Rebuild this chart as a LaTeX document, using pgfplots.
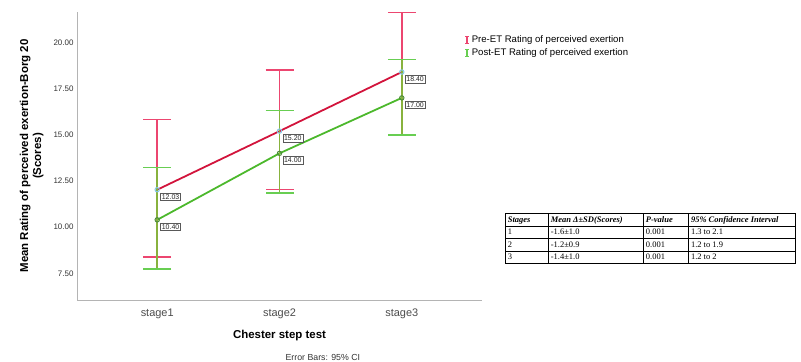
\documentclass[border=0pt]{standalone}
\usepackage{pgfplots}
\pgfplotsset{compat=1.18}
\usepackage{pgfplotstable}
\usepackage{fontspec}
\setmainfont{Liberation Sans}
\newfontfamily\tablefont{Liberation Serif}

\definecolor{preLine}{RGB}{210,20,60}
\definecolor{preErr}{RGB}{236,70,112}
\definecolor{postLine}{RGB}{76,184,44}
\definecolor{postErr}{RGB}{104,206,82}
\definecolor{barMix}{RGB}{136,178,62}
\definecolor{preMark}{RGB}{134,200,230}
\definecolor{postMark}{RGB}{78,140,60}
\definecolor{axisGray}{RGB}{180,180,180}

% stage, mean, upper and lower half-widths of the 95% CI
\pgfplotstableread{
x  y      ep    em
1  12.03  3.80  3.65
2  15.20  3.30  3.16
3  18.40  3.22  3.38
}\preET
\pgfplotstableread{
x  y      ep    em
1  10.40  2.82  2.67
2  14.00  2.32  2.14
3  17.00  2.08  2.00
}\postET

\begin{document}
\begin{tikzpicture}
\useasboundingbox (0,0) rectangle (801bp,362bp);
\begin{axis}[
  at={(77bp,62bp)}, anchor=south west,
  scale only axis, width=405bp, height=288bp,
  xmin=0.344, xmax=3.656, ymin=6.06, ymax=21.65,
  axis x line*=bottom, axis y line*=left,
  axis line style={draw=axisGray, line width=0.8pt},
  major tick length=0pt,
  /pgf/number format/assume math mode=true,
  xtick={1,2,3}, xticklabels={stage1,stage2,stage3},
  ytick={7.5,10,12.5,15,17.5,20},
  yticklabels={7.50,10.00,12.50,15.00,17.50,20.00},
  xticklabel style={font=\fontsize{11}{13}\selectfont, text=black!70, yshift=-5bp},
  yticklabel style={font=\fontsize{8}{9}\selectfont, text=black!80},
  xlabel={Chester step test},
  ylabel={Mean Rating of perceived exertion-Borg 20\\(Scores)},
  every axis x label/.style={at={(axis description cs:0.5,-0.122)}, anchor=center,
    font=\bfseries\fontsize{11.5}{13}\selectfont},
  every axis y label/.style={at={(axis description cs:-0.074,0.5)}, anchor=south,
    rotate=90, align=center, font=\bfseries\fontsize{11.5}{13}\selectfont},
  clip=false,
  legend style={at={(axis description cs:0.956,0.925)}, anchor=north west,
    draw=none, fill=none, font=\fontsize{9.6}{11}\selectfont,
    row sep=0.5pt, inner sep=0pt},
  legend cell align=left,
  nodes near coords={\pgfmathprintnumber[fixed,fixed zerofill,precision=2]{\pgfplotspointmeta}},
  point meta=y,
  every node near coord/.append style={anchor=north west, draw=black!65, fill=white,
    inner sep=1.3pt, line width=0.6pt, font=\fontsize{7}{8}\selectfont, text=black!85,
    xshift=3bp, yshift=-3bp},
]
% legend entries: small error-bar glyphs
\addlegendimage{line width=1.5pt, preErr, legend image code/.code={
  \draw (0.1cm,-0.12cm) -- (0.1cm,0.12cm)
    (0.03cm,-0.12cm) -- (0.17cm,-0.12cm) (0.03cm,0.12cm) -- (0.17cm,0.12cm);}}
\addlegendentry{Pre-ET Rating of perceived exertion}
\addlegendimage{line width=1.5pt, postErr, legend image code/.code={
  \draw (0.1cm,-0.12cm) -- (0.1cm,0.12cm)
    (0.03cm,-0.12cm) -- (0.17cm,-0.12cm) (0.03cm,0.12cm) -- (0.17cm,0.12cm);}}
\addlegendentry{Post-ET Rating of perceived exertion}

% Pre-ET means with 95% CI
\addplot[color=preLine, line width=1.8pt, mark=o,
  mark options={draw=preMark, line width=1pt, mark size=2.2pt},
  error bars/.cd, y dir=both, y explicit,
  error bar style={preErr, line width=1.5pt},
  error mark options={rotate=90, preErr, line width=1.5pt, mark size=14bp}]
  table[x=x, y=y, y error plus=ep, y error minus=em] {\preET};

% Post-ET means with 95% CI
\addplot[color=postLine, line width=1.8pt, mark=o,
  mark options={draw=postMark, line width=1pt, mark size=2.2pt},
  error bars/.cd, y dir=both, y explicit,
  error bar style={barMix, line width=1.5pt},
  error mark options={rotate=90, postErr, line width=1.5pt, mark size=14bp}]
  table[x=x, y=y, y error plus=ep, y error minus=em] {\postET};

\node[font=\fontsize{8.8}{10}\selectfont, text=black!80]
  at (axis description cs:0.607,-0.2) {Error Bars: 95\% CI};
\end{axis}

% paired-difference summary table
\node[anchor=north west, inner sep=0pt] at (505bp,149bp) {%
  \tablefont\fontsize{8.5}{12}\selectfont
  \setlength\tabcolsep{2pt}\setlength\arrayrulewidth{0.6pt}%
  \begin{tabular}{|p{38.5bp}|p{90.5bp}|p{40.5bp}|p{102bp}|}
  \hline
  \textbf{\textit{Stages}} & \textbf{\textit{Mean Δ±SD(Scores)}} & \textbf{\textit{P-value}} & \textbf{\textit{95\% Confidence Interval}}\\
  \hline
  1 & -1.6±1.0 & 0.001 & 1.3 to 2.1\\
  \hline
  2 & -1.2±0.9 & 0.001 & 1.2 to 1.9\\
  \hline
  3 & -1.4±1.0 & 0.001 & 1.2 to 2\\
  \hline
  \end{tabular}};
\end{tikzpicture}
\end{document}
